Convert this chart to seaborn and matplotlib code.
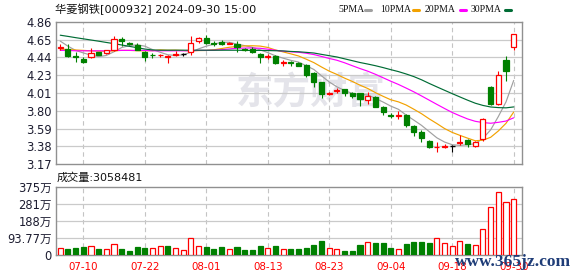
import numpy as np
import pandas as pd
import matplotlib
matplotlib.use("Agg")
import matplotlib.pyplot as plt
import seaborn as sns
from matplotlib.patches import Rectangle

sns.set_theme(style="white")
plt.rcParams['font.family'] = ['DejaVu Sans', 'Noto Sans CJK SC']

# ---------------- data ----------------
dates = ["07-05", "07-08", "07-09", "07-10", "07-11", "07-12", "07-15", "07-16", "07-17", "07-18",
         "07-19", "07-22", "07-23", "07-24", "07-25", "07-26", "07-29", "07-30", "07-31", "08-01",
         "08-02", "08-05", "08-06", "08-07", "08-08", "08-09", "08-12", "08-13", "08-14", "08-15",
         "08-16", "08-19", "08-20", "08-21", "08-22", "08-23", "08-26", "08-27", "08-28", "08-29",
         "08-30", "09-02", "09-03", "09-04", "09-05", "09-06", "09-09", "09-10", "09-11", "09-12",
         "09-13", "09-18", "09-19", "09-20", "09-23", "09-24", "09-25", "09-26", "09-27", "09-30"]

open_ = [4.55, 4.54, 4.45, 4.42, 4.44, 4.50, 4.49, 4.52, 4.66, 4.61,
         4.58, 4.50, 4.47, 4.46, 4.44, 4.46, 4.48, 4.50, 4.63, 4.67,
         4.61, 4.62, 4.60, 4.60, 4.54, 4.54, 4.48, 4.44, 4.45, 4.37,
         4.38, 4.37, 4.35, 4.25, 4.14, 4.00, 4.04, 4.06, 4.01, 4.01,
         3.93, 3.97, 3.85, 3.75, 3.74, 3.75, 3.62, 3.55, 3.45, 3.37,
         3.38, 3.39, 3.42, 3.46, 3.39, 3.47, 4.09, 3.88, 4.41, 4.56]
high = [4.60, 4.59, 4.50, 4.44, 4.55, 4.50, 4.53, 4.69, 4.68, 4.62,
        4.61, 4.51, 4.49, 4.48, 4.46, 4.51, 4.49, 4.69, 4.68, 4.70,
        4.63, 4.64, 4.62, 4.63, 4.55, 4.56, 4.49, 4.48, 4.46, 4.41,
        4.39, 4.38, 4.36, 4.26, 4.15, 4.03, 4.08, 4.06, 4.03, 4.02,
        4.03, 3.98, 3.86, 3.78, 3.80, 3.77, 3.64, 3.58, 3.46, 3.44,
        3.41, 3.40, 3.52, 3.47, 3.45, 3.72, 4.10, 4.28, 4.45, 4.72]
low = [4.52, 4.44, 4.38, 4.37, 4.43, 4.46, 4.48, 4.51, 4.57, 4.58,
       4.52, 4.39, 4.43, 4.44, 4.37, 4.45, 4.45, 4.47, 4.61, 4.59,
       4.57, 4.58, 4.60, 4.50, 4.51, 4.49, 4.37, 4.42, 4.36, 4.33,
       4.33, 4.33, 4.20, 4.09, 3.95, 3.99, 4.01, 3.98, 3.96, 3.86,
       3.88, 3.85, 3.76, 3.72, 3.71, 3.61, 3.51, 3.43, 3.36, 3.31,
       3.36, 3.31, 3.40, 3.38, 3.38, 3.45, 3.87, 3.87, 4.16, 4.52]
close = [4.56, 4.45, 4.44, 4.38, 4.49, 4.47, 4.52, 4.66, 4.63, 4.60,
         4.52, 4.44, 4.46, 4.47, 4.45, 4.48, 4.48, 4.61, 4.67, 4.61,
         4.60, 4.59, 4.61, 4.56, 4.52, 4.50, 4.44, 4.45, 4.37, 4.38,
         4.37, 4.34, 4.23, 4.15, 4.00, 4.01, 4.05, 4.01, 3.98, 3.94,
         3.98, 3.85, 3.79, 3.74, 3.75, 3.64, 3.55, 3.48, 3.37, 3.38,
         3.39, 3.39, 3.44, 3.41, 3.44, 3.71, 3.89, 4.23, 4.28, 4.71]
# volume in 万 shares
volume = [36.0, 32.4, 37.8, 43.2, 46.8, 32.4, 30.6, 63.0, 32.4, 21.6,
          43.2, 37.8, 36.0, 46.8, 48.6, 36.0, 25.2, 95.4, 46.8, 43.2,
          32.4, 43.2, 30.6, 43.2, 27.0, 27.0, 48.6, 36.0, 48.6, 30.6,
          32.4, 32.4, 37.8, 54.0, 75.6, 36.0, 30.6, 21.6, 21.6, 54.0,
          73.8, 64.8, 64.8, 37.8, 30.6, 59.4, 70.2, 70.2, 64.8, 95.4,
          64.8, 48.6, 79.2, 59.4, 54.0, 144.0, 264.6, 343.8, 289.8, 305.8481]

ma5_head = [4.63, 4.57, 4.52, 4.49]
ma10_head = [4.535, 4.53, 4.525, 4.52, 4.515, 4.51, 4.51, 4.515, 4.52]
ma20_head = [4.52, 4.52, 4.515, 4.515, 4.515, 4.515, 4.515, 4.52, 4.52, 4.52,
             4.52, 4.52, 4.515, 4.515, 4.515, 4.515, 4.515, 4.515, 4.52]
ma30_head = [4.70, 4.686, 4.671, 4.657, 4.643, 4.629, 4.614, 4.60, 4.584, 4.568,
             4.552, 4.536, 4.525, 4.522, 4.522, 4.522, 4.522, 4.522, 4.522, 4.522,
             4.522, 4.522, 4.522, 4.522, 4.52, 4.52, 4.52, 4.518, 4.516]

price_ticks = ["3.17", "3.38", "3.59", "3.80", "4.01", "4.23", "4.44", "4.65", "4.86"]
vol_ticks = ["0", "93.77万", "188万", "281万", "375万"]
date_ticks = ["07-10", "07-22", "08-01", "08-13", "08-23", "09-04", "09-18", "09-30"]
ma_names = ["5PMA", "10PMA", "20PMA", "30PMA"]
ma_colors = ["#a0a0a0", "#f2a100", "#ff00ff", "#006c35"]
title = "华菱钢铁[000932] 2024-09-30 15:00"
vol_label = "成交量:3058481"

# ---------------- figure ----------------
W, H = 578, 276
fig = plt.figure(figsize=(W / 100, H / 100), dpi=100)
fig.patch.set_facecolor("white")

def fx(px):
    return px / W

def fy(py):
    return 1 - py / H

ax = fig.add_axes([fx(56), fy(164.3), fx(522) - fx(56), fy(21.7) - fy(164.3)])
axv = fig.add_axes([fx(56), fy(255), fx(522) - fx(56), fy(186.7) - fy(255)])

n = len(close)
idx = np.arange(n)
df = pd.DataFrame({"i": idx, "open": open_, "high": high, "low": low,
                   "close": close, "vol": volume, "date": dates})

# moving averages
for k, head in zip([5, 10, 20, 30], [ma5_head, ma10_head, ma20_head, ma30_head]):
    m = df["close"].rolling(k).mean()
    m.iloc[:k - 1] = head
    df[f"ma{k}"] = m

RED = "#ff0000"
GREEN = "#008000"
BLACK = "#000000"
bw = 0.66

prev = df["close"].shift(1)
for r in df.itertuples():
    pc = prev.iloc[r.i]
    if r.close > r.open:
        c = RED
    elif r.close < r.open:
        c = GREEN
    else:
        if pd.isna(pc) or r.close > pc:
            c = RED
        elif r.close < pc:
            c = GREEN
        else:
            c = BLACK
    ax.vlines(r.i, r.low, r.high, color=c, lw=0.8, zorder=3)
    lo, hi = min(r.open, r.close), max(r.open, r.close)
    if hi - lo < 1e-9:
        ax.hlines(hi, r.i - bw / 2, r.i + bw / 2, color=c, lw=1.0, zorder=4)
    else:
        face = "white" if c == RED else c
        ax.add_patch(Rectangle((r.i - bw / 2, lo), bw, hi - lo, facecolor=face,
                               edgecolor=c, lw=0.9, zorder=4))

for k, col in zip([5, 10, 20, 30], ma_colors):
    sns.lineplot(x=df["i"], y=df[f"ma{k}"], ax=ax, color=col, lw=0.85, zorder=2,
                 legend=False)

# volume bars
vol_up = [True] + [close[j] >= close[j - 1] for j in range(1, n)]
for j in range(n):
    if vol_up[j]:
        axv.bar(j, volume[j], width=bw, facecolor="white", edgecolor=RED, lw=0.9, zorder=3)
    else:
        axv.bar(j, volume[j], width=bw, facecolor=GREEN, edgecolor=GREEN, lw=0.9, zorder=3)

tick_pos = [dates.index(d) for d in date_ticks]
ymin, ymax = 3.17, 4.86
price_vals = np.linspace(ymin, ymax, len(price_ticks))
vmax = 375.1
vol_vals = np.linspace(0, vmax, len(vol_ticks))

for a in (ax, axv):
    a.set_xlim(-0.55, n + 0.08)
    a.set_xticks(tick_pos)
    for sp in a.spines.values():
        sp.set_color("#909090")
        sp.set_linewidth(1.0)
    for x in tick_pos:
        a.axvline(x, color="#c4c4c4", lw=0.8, ls=(0, (4, 3)), zorder=1)
    a.tick_params(axis="both", length=0, pad=3)
    a.set_xlabel("")
    a.set_ylabel("")
    a.set_facecolor("white")

ax.set_ylim(ymin, ymax)
ax.set_yticks(price_vals)
ax.set_yticklabels(price_ticks, fontsize=8.3, color="#1c1c30")
ax.set_xticklabels([])
for v in price_vals[1:-1]:
    ax.axhline(v, color="#cacaca", lw=0.9, zorder=1)

axv.set_ylim(0, vmax)
axv.set_yticks(vol_vals)
axv.set_yticklabels(vol_ticks, fontsize=8.3, color="#1c1c30")
axv.set_xticklabels(date_ticks, fontsize=7.4, color=RED)
axv.tick_params(axis="x", pad=5)
for v in vol_vals[1:-1]:
    axv.axhline(v, color="#cacaca", lw=0.9, zorder=1)

# texts
fig.text(fx(55), fy(9), title, fontsize=8.1, color="#111111", va="center", ha="left")
fig.text(fx(57), fy(177.5), vol_label, fontsize=8.0, color="#111111", va="center", ha="left")

leg_x = [338, 380, 425, 471]
for name, col, x in zip(ma_names, ma_colors, leg_x):
    t = fig.text(fx(x), fy(9.5), name, fontsize=7.0, family="Liberation Serif",
                 color="#111111", va="center", ha="left")
for col, x in zip(ma_colors, [365, 413, 460, 505]):
    fig.add_artist(plt.Line2D([fx(x), fx(x + 5.5)], [fy(9.5), fy(9.5)], color=col,
                              lw=2.2, transform=fig.transFigure))

# watermarks
ax.text(0.385, 0.50, "东方财富", transform=ax.transAxes, fontsize=27, color="#e4e4ea",
        family=["Noto Sans CJK SC"], fontweight="bold", va="center", ha="left", zorder=0)
fig.text(fx(455), fy(262), "www.365jz.com", fontsize=12.5, family="Liberation Serif",
         fontweight="bold", color="#1f3d78", va="center", ha="left")

fig.savefig("out.png", dpi=100, facecolor="white")
